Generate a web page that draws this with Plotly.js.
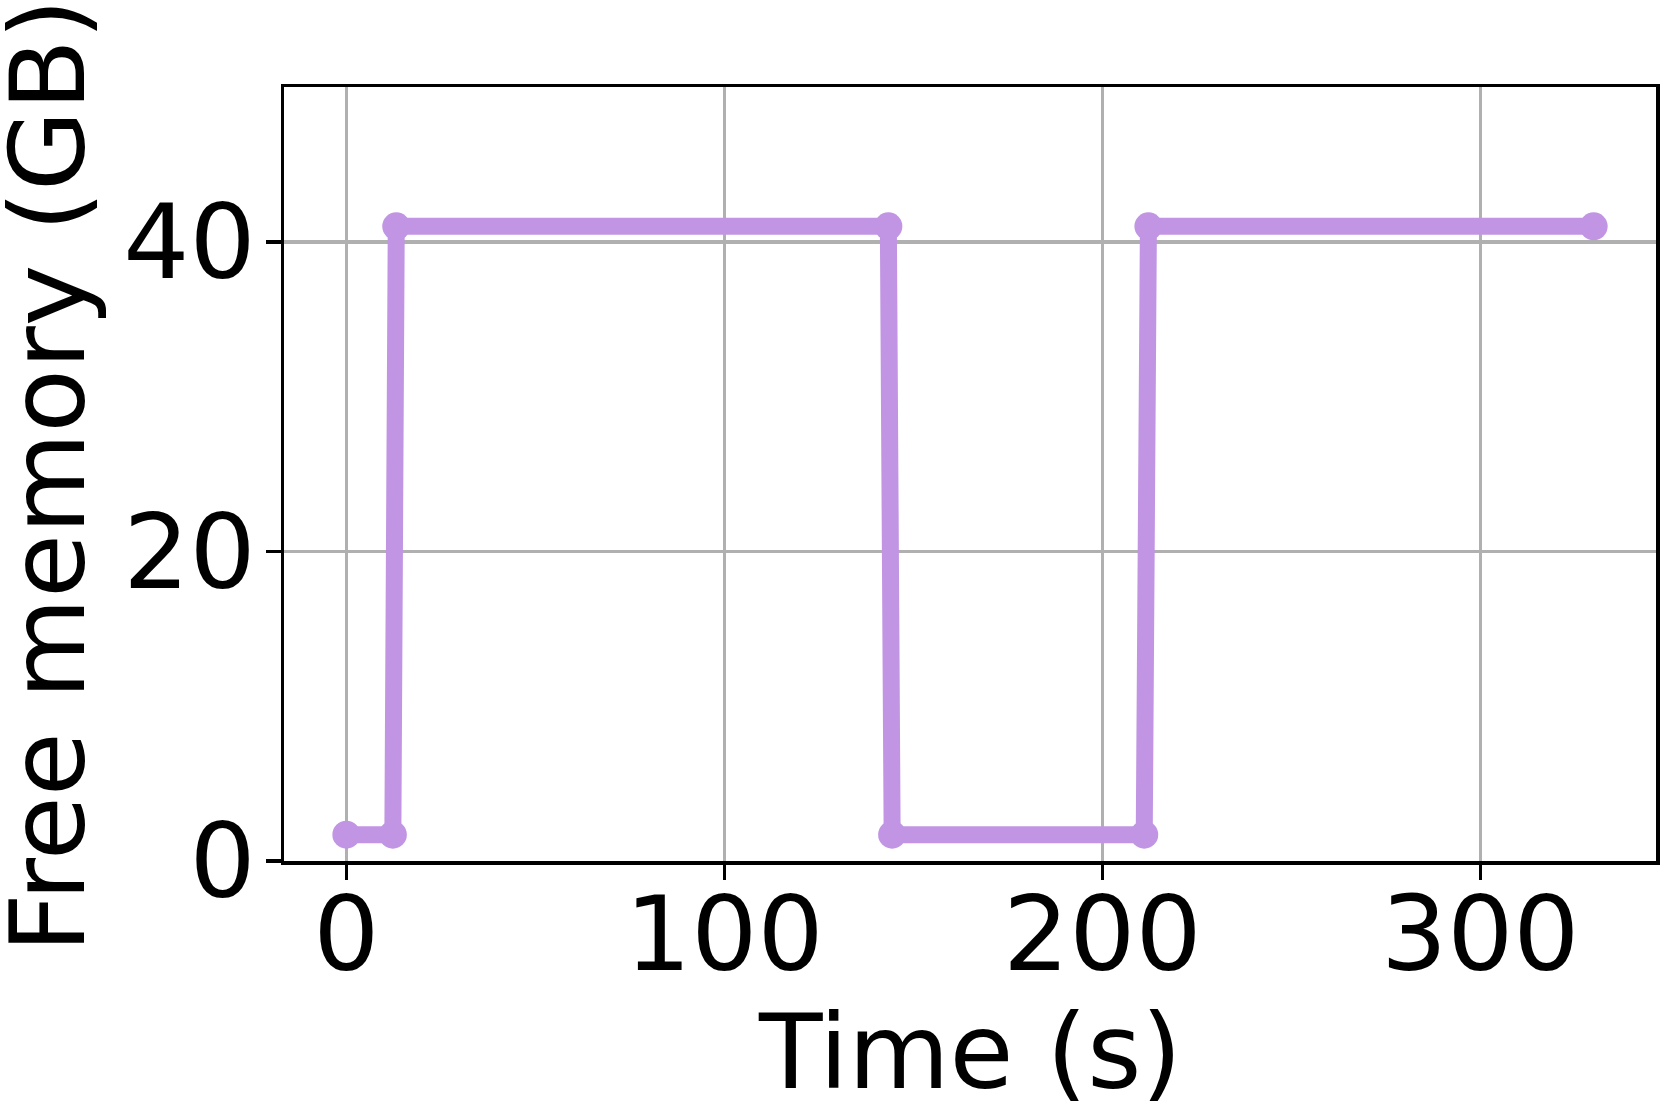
<!DOCTYPE html>
<html>
<head>
<meta charset="utf-8">
<script src="https://cdn.plot.ly/plotly-3.0.1.min.js"></script>
<style>
    html, body { margin: 0; padding: 0; background: #ffffff; }
    #chartDiv { width: 1661px; height: 1107px; }
</style>
</head>
<body>
<div id="chartDiv"></div>
<script>
// data
const time_s     = [0, 12.3, 13.2, 143.4, 144.4, 211.1, 212.2, 330];
const free_mem   = [1.7, 1.7, 41.0, 41.0, 1.7, 1.7, 41.0, 41.0];
const x_ticks    = [0, 100, 200, 300];
const y_ticks    = [0, 20, 40];

const font_name  = "DejaVu Sans";
const font_size  = 104;

// trace
const memTrace = {
    x      : time_s,
    y      : free_mem,
    type   : "scatter",
    mode   : "lines+markers",
    line   : { color: "#c195e3", width: 17 },
    marker : { color: "#c195e3", size: 28 },
    hoverinfo : "skip"
};

// common axis style (matplotlib look: boxed frame, gray grid, outside ticks)
function axisStyle(tickvals, range, standoff) {
    return {
        range     : range,
        tickvals  : tickvals,
        ticktext  : tickvals.map(String),
        ticks     : "outside",
        ticklen   : 15,
        tickwidth : 3.5,
        tickcolor : "#000000",
        ticklabelstandoff : standoff,
        showline  : true,
        mirror    : true,
        linecolor : "#000000",
        linewidth : 3.5,
        showgrid  : true,
        gridcolor : "#b0b0b0",
        gridwidth : 3.5,
        zeroline  : false,
        automargin: false,
        tickfont  : { family: font_name, size: font_size, color: "#000000" }
    };
}

const layout = {
    width  : 1661,
    height : 1107,
    margin : { l: 284, r: 5, t: 87, b: 246 },
    paper_bgcolor : "#ffffff",
    plot_bgcolor  : "#ffffff",
    showlegend : false,
    xaxis : axisStyle(x_ticks, [-16.5, 346.5], -34),
    yaxis : axisStyle(y_ticks, [0, 50], -11),
    // axis titles as annotations so they can be placed exactly
    annotations : [
        {
            text : "Time (s)",
            xref : "paper", yref : "paper",
            x : 0.5, y : 0,
            xanchor : "center", yanchor : "top",
            yshift : -128,
            showarrow : false,
            font : { family: font_name, size: font_size, color: "#000000" }
        },
        {
            text : "Free memory (GB)",
            xref : "paper", yref : "paper",
            x : 0, y : 0.5,
            xanchor : "right", yanchor : "middle",
            xshift : -173,
            yshift : -2,
            textangle : -90,
            showarrow : false,
            font : { family: font_name, size: 104, color: "#000000" }
        }
    ]
};

Plotly.newPlot("chartDiv", [memTrace], layout, { displayModeBar: false, staticPlot: true });
</script>
</body>
</html>
